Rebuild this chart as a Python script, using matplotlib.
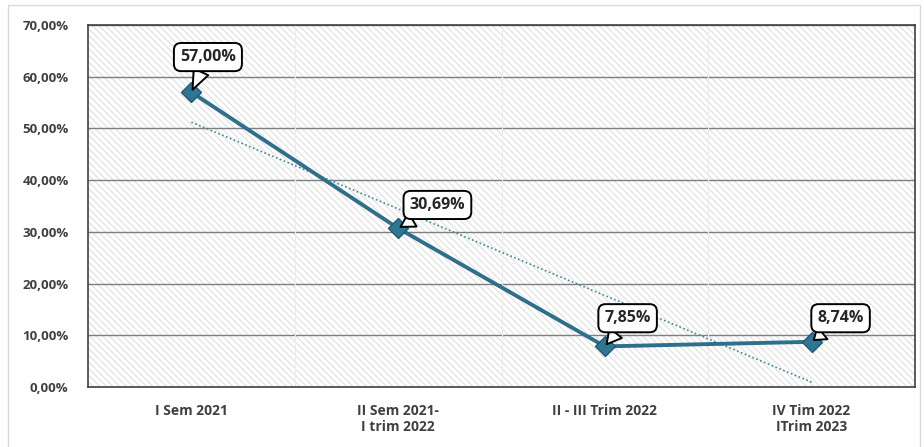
import numpy as np
import matplotlib.pyplot as plt
from matplotlib.patches import Rectangle

categories = ['I Sem 2021', 'II Sem 2021-\nI trim 2022', 'II - III Trim 2022', 'IV Tim 2022\nITrim 2023']
values = [57.00, 30.69, 7.85, 8.74]
labels = ['57,00%', '30,69%', '7,85%', '8,74%']
yticks = [0, 10, 20, 30, 40, 50, 60, 70]

plt.rcParams['font.family'] = ['Open Sans', 'DejaVu Sans']
plt.rcParams['hatch.linewidth'] = 0.9

fig = plt.figure(figsize=(9.24, 4.47), dpi=100)
ax = fig.add_axes([88 / 924, 1 - 387 / 447, 827 / 924, 362 / 447])

# outer chart frame
fig.patches.append(Rectangle((8 / 924, -0.02), 912 / 924, 1 - 5 / 447 + 0.02,
                             transform=fig.transFigure, fill=False,
                             ec='#d9d9d9', lw=1))

x = np.arange(len(values))
ax.set_xlim(-0.5, len(values) - 0.5)
ax.set_ylim(0, 70)

# hatched background
ax.add_patch(Rectangle((0, 0), 1, 1, transform=ax.transAxes, fc='white',
                       ec='#e2e2e2', lw=0, hatch='\\\\\\\\\\', zorder=0))

for v in yticks[1:]:
    ax.axhline(v, color='#7f7f7f', lw=1, zorder=1)
for b in x[:-1] + 0.5:
    ax.axvline(b, color='#ececec', lw=0.8, zorder=1)

# linear trend
k, b0 = np.polyfit(x, values, 1)
ax.plot(x, k * x + b0, ls=(0, (1, 1.5)), color='#3c8a96', lw=1.2, zorder=2)

ax.plot(x, values, color='#2f6f8c', lw=2.8, marker='D', ms=10,
        mfc='#2e7793', mec='#235a72', zorder=3)

label_pos = [(0.08, 63.8), (0.19, 35.2), (0.11, 13.3), (0.14, 13.3)]
for xi, v, lab, (dx, ly) in zip(x, values, labels, label_pos):
    ax.annotate(lab, (xi, v), xytext=(xi + dx, ly),
                textcoords='data', ha='center', va='center',
                fontsize=11.5, fontweight='bold', color='#262626',
                bbox=dict(boxstyle='round,pad=0.38,rounding_size=0.45',
                          fc='white', ec='black', lw=1.4),
                arrowprops=dict(arrowstyle='wedge,tail_width=1.0,shrink_factor=0.5',
                                fc='white', ec='black', lw=1.4,
                                shrinkA=0, shrinkB=2),
                zorder=5)

ax.set_xticks(x)
ax.set_xticklabels(categories, fontsize=10, fontweight='bold', color='#404040')
ax.set_yticks(yticks)
ax.set_yticklabels([f'{t},00%' for t in yticks], fontsize=9.5, fontweight='bold',
                   color='#404040')
ax.tick_params(length=0, pad=14)
ax.tick_params(axis='x', pad=12)
for s in ax.spines.values():
    s.set_color('#404040')
    s.set_linewidth(1.2)

fig.savefig('out.png', dpi=100)
